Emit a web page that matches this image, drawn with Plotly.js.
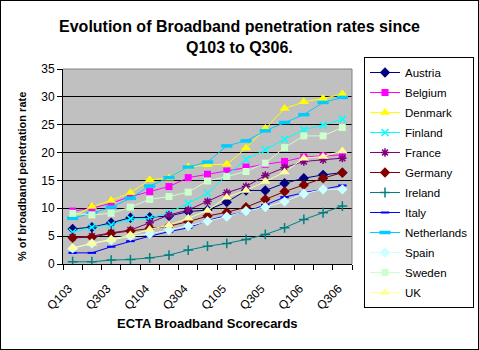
<!DOCTYPE html>
<html>
<head>
<meta charset="utf-8">
<script src="https://cdn.plot.ly/plotly-3.0.1.min.js"></script>
<style>
html,body{margin:0;padding:0;background:#fff;overflow:hidden;}
#wrap{position:relative;width:479px;height:350px;overflow:hidden;}
#chart{width:500px;height:350px;}
#frame{position:absolute;left:0;top:0;width:477px;height:348px;border:1px solid #000;pointer-events:none;}
</style>
</head>
<body>
<div id="wrap"><div id="chart"></div><div id="frame"></div></div>
<script>
const quarters = ["Q103","Q203","Q303","Q403","Q104","Q204","Q304","Q404","Q105","Q205","Q305","Q405","Q106","Q206","Q306"];
const tickLabels = quarters.filter((q, i) => i % 2 === 0);

const austria     = [6.3, 6.6, 7.4, 8.3, 8.4, 8.6, 9.4, 9.7, 11.1, 13.2, 13.2, 14.5, 15.4, 16.0, 16.4];
const belgium     = [9.5, 10.0, 10.9, 12.1, 13.0, 13.9, 15.5, 16.1, 16.7, 17.4, 17.9, 18.4, 19.2, 19.4, 19.6];
const denmark     = [8.5, 10.3, 11.4, 12.8, 15.1, 15.4, 17.4, 17.8, 17.9, 20.8, 24.3, 27.9, 29.1, 29.7, 30.5];
const finland     = [5.7, 6.6, 7.0, 8.1, 8.2, 9.2, 10.9, 12.7, 15.9, 18.8, 20.5, 22.4, 24.1, 24.9, 26.0];
const france      = [4.8, 5.0, 5.6, 6.1, 7.4, 8.8, 9.7, 11.2, 12.8, 13.9, 15.9, 17.3, 18.4, 18.7, 19.0];
const germany     = [4.7, 4.8, 5.5, 5.9, 6.4, 6.8, 7.6, 8.6, 9.3, 10.2, 11.6, 13.0, 14.2, 15.4, 16.4];
const ireland     = [0.4, 0.4, 0.7, 0.8, 1.1, 1.6, 2.5, 3.2, 3.7, 4.4, 5.3, 6.5, 8.0, 9.2, 10.4];
const italy       = [2.0, 2.0, 3.1, 4.1, 5.0, 5.8, 6.5, 7.8, 8.7, 9.4, 10.6, 12.0, 12.8, 13.4, 14.1];
const netherlands = [8.2, 9.1, 10.2, 11.8, 14.0, 15.5, 17.4, 18.3, 21.2, 22.1, 23.9, 25.4, 26.8, 29.0, 29.9];
const spain       = [2.8, 3.7, 4.3, 5.0, 5.4, 6.1, 6.8, 7.7, 8.5, 9.5, 10.2, 11.2, 12.6, 13.4, 13.4];
const sweden      = [9.1, 8.8, 9.1, 10.2, 11.6, 12.1, 12.9, 14.9, 15.7, 16.6, 18.1, 20.9, 23.0, 23.0, 24.5];
const uk          = [2.9, 3.7, 4.4, 5.2, 6.2, 7.0, 8.2, 9.6, 12.0, 13.2, 14.8, 16.5, 19.0, 19.3, 20.3];

const seriesNames = ["Austria","Belgium","Denmark","Finland","France","Germany","Ireland","Italy","Netherlands","Spain","Sweden","UK"];
const seriesValues = [austria, belgium, denmark, finland, france, germany, ireland, italy, netherlands, spain, sweden, uk];
const seriesColors = ["#000080","#FF00FF","#FFFF00","#00FFFF","#800080","#800000","#008080","#0000FF","#00CCFF","#CCFFFF","#CCFFCC","#FFFF99"];
const seriesSymbols = ["diamond","square","triangle-up","x-thin-open","asterisk-open","diamond","cross-thin-open","line-ew-open","line-ew-open","diamond","square","triangle-up"];
const symbolSizes = [8,7,9,7,7,8,7,6,8,8,7,9];
const symbolLineWidths = [0,0,0,1.5,1.5,0,1.5,2,3.5,0,0,0];

const FONT = "Liberation Sans, Arial, sans-serif";
const FIG_W = 500;

const traces = seriesNames.map((name, k) => ({
  type: "scatter",
  mode: "lines+markers",
  name: name,
  legendgroup: name,
  x: quarters,
  y: seriesValues[k],
  line: {color: seriesColors[k], width: 1},
  marker: {
    symbol: seriesSymbols[k],
    size: symbolSizes[k],
    color: seriesColors[k],
    line: {color: seriesColors[k], width: symbolLineWidths[k]}
  },
  hoverinfo: "x+y+name"
}));

// empty helper trace for the boundary tick axis
traces.push({type: "scatter", x: [], y: [], xaxis: "x2", yaxis: "y", showlegend: false, hoverinfo: "skip"});

const boundaries = quarters.map((q, i) => i - 0.5).concat([quarters.length - 0.5]);

const layout = {
  width: FIG_W,
  height: 350,
  margin: {l: 63, r: FIG_W - 352, t: 69, b: 86},
  paper_bgcolor: "#ffffff",
  plot_bgcolor: "#C0C0C0",
  font: {family: FONT, size: 12, color: "#000"},
  title: {
    text: "<b>Evolution of Broadband penetration rates since</b>",
    font: {family: FONT, size: 16, color: "#000"},
    x: 239.5 / FIG_W, xref: "container", xanchor: "center",
    y: 1 - 26 / 350, yref: "container", yanchor: "middle"
  },
  annotations: [
    {text: "<b>Q103 to Q306.</b>", xref: "paper", yref: "paper",
     x: (239.5 - 63) / 289, y: (264 - 48) / 195, xanchor: "center", yanchor: "middle",
     showarrow: false, font: {family: FONT, size: 16, color: "#000"}},
    {text: "<b>% of broadband penetration rate</b>", xref: "paper", yref: "paper",
     x: (22 - 63) / 289, y: (264 - 177) / 195, xanchor: "center", yanchor: "middle",
     textangle: -90, showarrow: false, font: {family: FONT, size: 11, color: "#000"}},
    {text: "<b>ECTA Broadband Scorecards</b>", xref: "paper", yref: "paper",
     x: 0.5, y: (264 - 323) / 195, xanchor: "center", yanchor: "middle",
     showarrow: false, font: {family: FONT, size: 13, color: "#000"}}
  ],
  xaxis: {
    type: "category",
    range: [-0.5, quarters.length - 0.5],
    tickvals: tickLabels,
    ticktext: tickLabels,
    tickangle: -45,
    ticks: "",
    ticklabelstandoff: 12,
    ticklabelshift: -4,
    showgrid: false,
    zeroline: false,
    showline: true,
    linecolor: "#000",
    linewidth: 1,
    tickfont: {family: FONT, size: 12, color: "#000"},
    automargin: false
  },
  xaxis2: {
    overlaying: "x",
    anchor: "y",
    side: "bottom",
    range: [-0.5, quarters.length - 0.5],
    tickvals: boundaries,
    ticks: "outside",
    ticklen: 5,
    tickcolor: "#000",
    tickwidth: 1,
    showticklabels: false,
    showgrid: false,
    zeroline: false,
    showline: false
  },
  yaxis: {
    range: [0, 35],
    tickvals: [0, 5, 10, 15, 20, 25, 30, 35],
    ticks: "outside",
    ticklen: 5,
    tickcolor: "#000",
    showgrid: true,
    gridcolor: "#000",
    gridwidth: 1,
    zeroline: false,
    showline: true,
    linecolor: "#000",
    tickfont: {family: FONT, size: 12, color: "#000"},
    automargin: false
  },
  shapes: [
    {type: "line", xref: "paper", yref: "paper", x0: 0, x1: 1, y0: 1, y1: 1, line: {color: "#808080", width: 1}, layer: "above"},
    {type: "line", xref: "paper", yref: "paper", x0: 1, x1: 1, y0: 0, y1: 1, line: {color: "#808080", width: 1}, layer: "above"}
  ],
  legend: {
    x: (364 - 63) / 289, y: (264 - 57) / 195, xanchor: "left", yanchor: "top",
    bgcolor: "#ffffff",
    bordercolor: "#000",
    borderwidth: 1,
    tracegroupgap: 1,
    maxheight: 1000,
    font: {family: FONT, size: 11.5, color: "#000"}
  },
  showlegend: true
};

Plotly.newPlot("chart", traces, layout, {displayModeBar: false, staticPlot: true});
</script>
</body>
</html>
